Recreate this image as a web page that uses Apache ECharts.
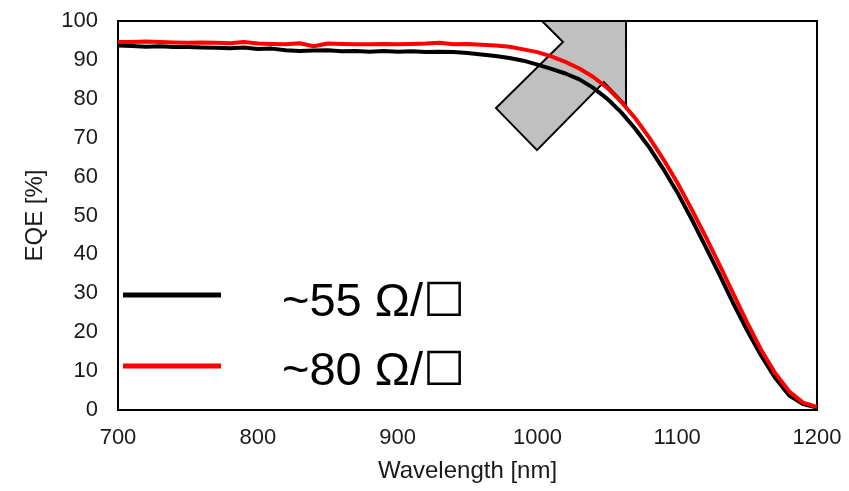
<!DOCTYPE html>
<html>
<head>
<meta charset="utf-8">
<script src="https://cdn.jsdelivr.net/npm/echarts@6/dist/echarts.min.js"></script>
<style>
  html, body { margin: 0; padding: 0; background: #fff; }
  #chart { width: 849px; height: 491px; }
</style>
</head>
<body>
<div id="chart"></div>
<script>
// Wavelength grid (nm)
const wavelengths = [700, 710, 720, 730, 740, 750, 760, 770, 780, 790,
  800, 810, 820, 830, 840, 850, 860, 870, 880, 890,
  900, 910, 920, 930, 940, 950, 960, 970, 980, 990,
  1000, 1010, 1020, 1030, 1040, 1050, 1060, 1070, 1080, 1090,
  1100, 1110, 1120, 1130, 1140, 1150, 1160, 1170, 1180, 1190, 1200];

// EQE (%) for the ~55 ohm/sq sample
const eqe55 = [93.7, 93.6, 93.4, 93.5, 93.3, 93.3, 93.2, 93.1, 93.0, 93.2,
  92.8, 92.9, 92.5, 92.3, 92.4, 92.5, 92.2, 92.3, 92.1, 92.3,
  92.1, 92.2, 92.0, 92.1, 92.0, 91.8, 91.4, 91.0, 90.5, 89.8,
  88.8, 87.7, 86.5, 85.0, 82.8, 80.0, 76.5, 72.3, 67.5, 62.0,
  56.0, 49.3, 42.2, 35.0, 27.5, 20.5, 14.0, 8.3, 3.8, 1.5, 0.6];

// EQE (%) for the ~80 ohm/sq sample
const eqe80 = [94.6, 94.6, 94.7, 94.6, 94.5, 94.4, 94.5, 94.4, 94.3, 94.6,
  94.2, 94.1, 94.0, 94.3, 93.5, 94.2, 94.1, 94.0, 94.0, 94.1,
  94.0, 94.1, 94.2, 94.4, 94.0, 94.1, 93.9, 93.7, 93.4, 92.7,
  92.0, 90.9, 89.5, 87.8, 85.6, 82.8, 79.2, 75.0, 70.0, 64.5,
  58.5, 51.8, 44.8, 37.5, 30.0, 22.5, 15.5, 9.5, 4.8, 1.9, 0.8];

const seriesNames = ['~55 Ω/☐', '~80 Ω/☐'];
const seriesColors = ['#000000', '#ff0000'];

// Bent grey arrow marker, outline in data coordinates (wavelength, EQE)
const arrowX = [1003.3, 1063.4, 1063.4, 1047.6, 999.7, 970.4, 1018.3];
const arrowY = [100, 100, 78.4, 84.3, 66.8, 77.6, 94.6];

const FONT = '"Liberation Sans", Arial, sans-serif';
const TXT = '#1a1a1a';

const chart = echarts.init(document.getElementById('chart'), null, { renderer: 'canvas' });

const pairs = (ys) => wavelengths.map((x, i) => [x, ys[i]]);

chart.setOption({
  animation: false,
  backgroundColor: '#ffffff',
  grid: {
    left: 118, right: 32, top: 21, bottom: 81,
    show: true, borderColor: '#000', borderWidth: 2, backgroundColor: 'transparent'
  },
  xAxis: {
    type: 'value', min: 700, max: 1200, interval: 100,
    name: 'Wavelength [nm]', nameLocation: 'middle', nameGap: 49,
    nameTextStyle: { fontFamily: FONT, fontSize: 24, color: TXT },
    axisLine: { show: true, lineStyle: { color: '#000', width: 2 } },
    axisTick: { show: false },
    splitLine: { show: false },
    axisLabel: { fontFamily: FONT, fontSize: 22, color: TXT, margin: 17, formatter: (v) => String(v) }
  },
  yAxis: {
    type: 'value', min: 0, max: 100, interval: 10,
    name: 'EQE [%]', nameLocation: 'middle', nameGap: 71,
    nameTextStyle: { fontFamily: FONT, fontSize: 24, color: TXT },
    axisLine: { show: true, lineStyle: { color: '#000', width: 2 } },
    axisTick: { show: false },
    splitLine: { show: false },
    axisLabel: { fontFamily: FONT, fontSize: 22, color: TXT, margin: 20 }
  },
  series: [
    {
      type: 'custom',
      z: 1,
      clip: false,
      data: [[1000, 80]],
      renderItem: (params, api) => ({
        type: 'polygon',
        shape: { points: arrowX.map((x, i) => api.coord([x, arrowY[i]])) },
        style: { fill: '#c0c0c0', stroke: '#000', lineWidth: 2, lineJoin: 'miter' }
      }),
      silent: true
    },
    {
      name: seriesNames[0], type: 'line', z: 3,
      data: pairs(eqe55), showSymbol: false, smooth: false,
      lineStyle: { color: seriesColors[0], width: 4 }
    },
    {
      name: seriesNames[1], type: 'line', z: 4,
      data: pairs(eqe80), showSymbol: false, smooth: false,
      lineStyle: { color: seriesColors[1], width: 4 }
    }
  ],
  graphic: [
    { type: 'line', shape: { x1: 123, y1: 295, x2: 221, y2: 295 }, style: { stroke: seriesColors[0], lineWidth: 5 }, z: 10 },
    { type: 'text', x: 282, y: 303, style: { text: seriesNames[0], font: '47px ' + FONT, fill: '#000', verticalAlign: 'middle' }, z: 10 },
    { type: 'line', shape: { x1: 123, y1: 366, x2: 221, y2: 366 }, style: { stroke: seriesColors[1], lineWidth: 5 }, z: 10 },
    { type: 'text', x: 282, y: 372, style: { text: seriesNames[1], font: '47px ' + FONT, fill: '#000', verticalAlign: 'middle' }, z: 10 }
  ]
});
</script>
</body>
</html>
